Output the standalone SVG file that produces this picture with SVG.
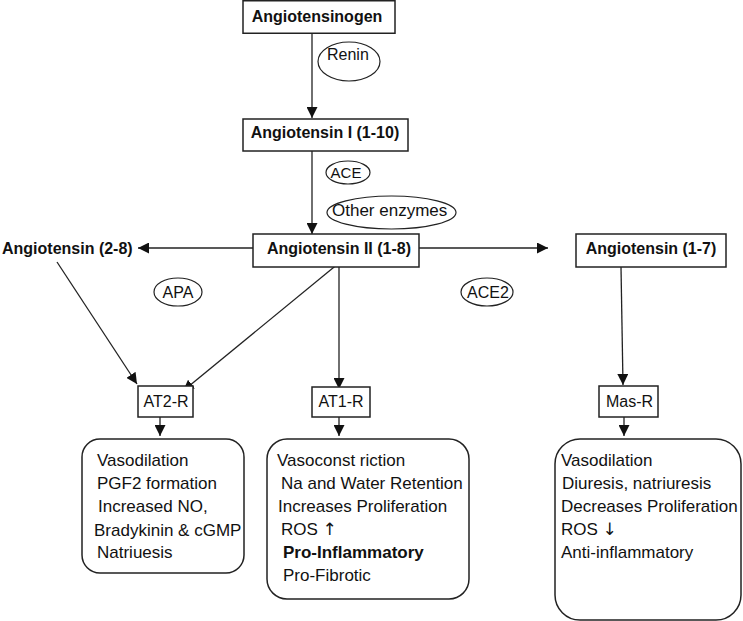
<svg xmlns="http://www.w3.org/2000/svg" width="743" height="621" viewBox="0 0 743 621">
<style>
text{font-family:"Liberation Sans",Arial,sans-serif;fill:#111}
.t{font-size:16px;font-weight:bold}
.r{font-size:16px}
.b{font-size:17px}
.bb{font-size:17px;font-weight:bold}
.arr{font-family:"DejaVu Sans",sans-serif;font-size:17px;fill:#111}
.box{fill:#fff;stroke:#222;stroke-width:1.5}
.ell{fill:none;stroke:#222;stroke-width:1.2}
.c{fill:none;stroke:#222;stroke-width:1.3}
</style>
<defs>
<marker id="ah" markerUnits="userSpaceOnUse" markerWidth="11" markerHeight="11" refX="10" refY="5" orient="auto" viewBox="0 0 10 10">
<path d="M0,0 L10,5 L0,10 z" fill="#111"/>
</marker>
</defs>
<rect width="743" height="621" fill="#fff"/>

<g id="connectors">
<line class="c" x1="312" y1="33" x2="312" y2="118" marker-end="url(#ah)"/>
<line class="c" x1="312" y1="151" x2="312" y2="234" marker-end="url(#ah)"/>
<line class="c" x1="253" y1="248" x2="138" y2="248" marker-end="url(#ah)"/>
<line class="c" x1="419" y1="248" x2="548" y2="248" marker-end="url(#ah)"/>
<line class="c" x1="57" y1="262" x2="137" y2="384" marker-end="url(#ah)"/>
<line class="c" x1="339" y1="263" x2="183" y2="391" marker-end="url(#ah)"/>
<line class="c" x1="339" y1="263" x2="339" y2="389" marker-end="url(#ah)"/>
<line class="c" x1="621" y1="267" x2="623" y2="385" marker-end="url(#ah)"/>
<line class="c" x1="160" y1="417" x2="160" y2="436" marker-end="url(#ah)"/>
<line class="c" x1="339" y1="417" x2="339" y2="436" marker-end="url(#ah)"/>
<line class="c" x1="624" y1="417" x2="624" y2="436" marker-end="url(#ah)"/>
</g>

<g id="angiotensinogen">
<rect class="box" x="243" y="0.75" width="152" height="32.5"/>
<text class="t" x="317" y="22" text-anchor="middle">Angiotensinogen</text>
</g>
<g id="renin">
<ellipse class="ell" cx="349" cy="61.5" rx="31" ry="19.5"/>
<text class="r" x="327" y="60">Renin</text>
</g>
<g id="angiotensin-i">
<rect class="box" x="243" y="119" width="165" height="32"/>
<text class="t" x="325" y="138" text-anchor="middle">Angiotensin I (1-10)</text>
</g>
<g id="ace">
<ellipse class="ell" cx="348" cy="172.5" rx="22" ry="11.5"/>
<text class="r" x="346" y="178" text-anchor="middle" style="font-size:15px">ACE</text>
</g>
<g id="other-enzymes">
<ellipse class="ell" cx="391.5" cy="212.5" rx="64.5" ry="16.5"/>
<text class="b" x="332" y="216">Other enzymes</text>
</g>
<g id="angiotensin-ii">
<rect class="box" x="253" y="234" width="166" height="33"/>
<text class="t" x="339" y="254" text-anchor="middle">Angiotensin II (1-8)</text>
</g>
<g id="angiotensin-2-8">
<text class="t" x="2" y="254">Angiotensin (2-8)</text>
</g>
<g id="angiotensin-1-7">
<rect class="box" x="576" y="234" width="150" height="33"/>
<text class="t" x="651" y="254" text-anchor="middle">Angiotensin (1-7)</text>
</g>
<g id="apa">
<ellipse class="ell" cx="178" cy="292" rx="24" ry="14"/>
<text class="r" x="178" y="298" text-anchor="middle">APA</text>
</g>
<g id="ace2">
<ellipse class="ell" cx="487" cy="292" rx="26" ry="14"/>
<text class="r" x="488" y="298" text-anchor="middle">ACE2</text>
</g>
<g id="at2r">
<rect class="box" x="138" y="386" width="55" height="31"/>
<text class="r" x="166" y="407" text-anchor="middle">AT2-R</text>
</g>
<g id="at1r">
<rect class="box" x="312" y="387" width="58" height="30"/>
<text class="r" x="341" y="407" text-anchor="middle">AT1-R</text>
</g>
<g id="masr">
<rect class="box" x="599" y="386" width="59" height="31"/>
<text class="r" x="629.5" y="407" text-anchor="middle">Mas-R</text>
</g>

<g id="at2-effects">
<rect class="box" x="82" y="439" width="162" height="134" rx="18" ry="18"/>
<text class="b" x="97" y="466">Vasodilation</text>
<text class="b" x="97" y="489">PGF2 formation</text>
<text class="b" x="98" y="512">Increased NO,</text>
<text class="b" x="94" y="536">Bradykinin &amp; cGMP</text>
<text class="b" x="97" y="558">Natriuesis</text>
</g>
<g id="at1-effects">
<rect class="box" x="267" y="439" width="202" height="160" rx="20" ry="20"/>
<text class="b" x="277" y="466">Vasoconst riction</text>
<text class="b" x="281" y="489">Na and Water Retention</text>
<text class="b" x="278" y="512">Increases Proliferation</text>
<text class="b" x="281" y="535">ROS <tspan class="arr">↑</tspan></text>
<text class="bb" x="283" y="558">Pro-Inflammatory</text>
<text class="b" x="283" y="581">Pro-Fibrotic</text>
</g>
<g id="mas-effects">
<rect class="box" x="555" y="439" width="186" height="181" rx="25" ry="25"/>
<text class="b" x="561" y="466">Vasodilation</text>
<text class="b" x="562" y="489">Diuresis, natriuresis</text>
<text class="b" x="561" y="512">Decreases Proliferation</text>
<text class="b" x="561" y="535">ROS <tspan class="arr">↓</tspan></text>
<text class="b" x="561" y="558">Anti-inflammatory</text>
</g>
</svg>
